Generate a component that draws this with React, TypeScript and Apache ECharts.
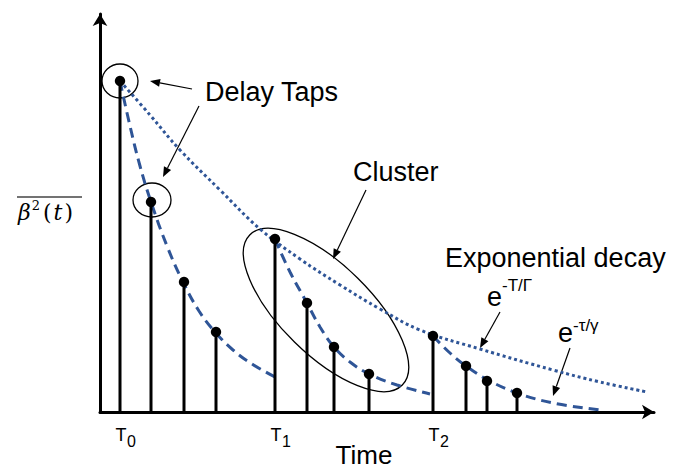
import React, { useEffect, useRef } from "react";
import * as echarts from "echarts";

// Delay taps (time, mean power) in arbitrary schematic units
const tapTimes = [20, 51, 84, 116, 175, 207, 234, 269, 333, 366, 387, 417];
const tapPowers = [331, 210, 130, 80, 173, 109, 65, 38, 76, 46, 31, 19];

// Cluster envelope e^{-T/Γ} (dotted)
const envelopeTimes = [20, 50, 80, 120, 160, 200, 240, 280, 320, 380, 453, 500, 547];
const envelopePowers = [331, 297, 262, 222, 183, 153, 127, 103, 82, 63, 42, 30, 20];

// Ray decay within each cluster e^{-τ/γ} (dashed)
const decay1Times = [20, 30, 40, 51, 67, 83, 99, 115, 133, 152, 175];
const decay1Powers = [331, 286, 246, 210, 166, 130, 101, 80, 62, 48, 35];
const decay2Times = [175, 190, 207, 220, 234, 250, 269, 297, 330];
const decay2Powers = [173, 140, 109, 85, 65, 50, 38, 27, 18];
const decay3Times = [333, 350, 366, 388, 417, 453, 500];
const decay3Powers = [76, 59, 46, 32, 19, 9, 2];

const clusterHeadIdx = [0, 4, 8];
const clusterSubs = ["0", "1", "2"];

const X_MAX = 554;
const Y_MAX = 398;
const BLUE = "#2f5597";
const SANS = "'Liberation Sans', Arial, sans-serif";
const SERIF = "'DejaVu Serif', serif";

const zip = (a: number[], b: number[]) => a.map((v, i) => [v, b[i]]);

function arrow(x1: number, y1: number, x2: number, y2: number) {
  const ang = Math.atan2(y2 - y1, x2 - x1);
  const L = 10;
  const hw = 4;
  const c = Math.cos(ang);
  const s = Math.sin(ang);
  const bx = x2 - L * c;
  const by = y2 - L * s;
  const nx = -s;
  const ny = c;
  return [
    { type: "line", shape: { x1, y1, x2: bx, y2: by }, style: { stroke: "#000", lineWidth: 1.2 } },
    {
      type: "polygon",
      shape: { points: [[x2, y2], [bx + nx * hw, by + ny * hw], [bx - nx * hw, by - ny * hw]] },
      style: { fill: "#000" },
    },
  ];
}

function txt(text: string, x: number, y: number, size: number, align = "left") {
  return {
    type: "text",
    x,
    y,
    style: { text, fontSize: size, fontFamily: SANS, fill: "#000", align, verticalAlign: "middle" },
  };
}

export default function App() {
  const ref = useRef<HTMLDivElement>(null);
  useEffect(() => {
    if (!ref.current) return;
    const chart = echarts.init(ref.current, undefined, { renderer: "svg" });
    const axisCommon = {
      type: "value",
      min: 0,
      axisLine: {
        show: true,
        lineStyle: { color: "#000", width: 3 },
        symbol: ["none", "arrow"],
        symbolSize: [11, 12],
      },
      axisTick: { show: false },
      axisLabel: { show: false },
      splitLine: { show: false },
    };
    const lineSeries = (t: number[], p: number[], type: any) => ({
      type: "line",
      data: zip(t, p),
      symbol: "none",
      smooth: 0.4,
      silent: true,
      z: 2,
      lineStyle: { color: BLUE, width: 3, type, cap: "butt" },
    });
    chart.setOption({
      animation: false,
      grid: { left: 100, right: 37, top: 14, bottom: 58 },
      xAxis: { ...axisCommon, max: X_MAX },
      yAxis: { ...axisCommon, max: Y_MAX },
      series: [
        lineSeries(envelopeTimes, envelopePowers, [3, 3]),
        lineSeries(decay1Times, decay1Powers, [10, 6]),
        lineSeries(decay2Times, decay2Powers, [10, 6]),
        lineSeries(decay3Times, decay3Powers, [10, 6]),
        {
          type: "custom",
          data: zip(tapTimes, tapPowers),
          z: 3,
          silent: true,
          renderItem: (params: any, api: any) => {
            const x = api.value(0);
            const y = api.value(1);
            const top = api.coord([x, y]);
            const base = api.coord([x, 0]);
            return {
              type: "group",
              children: [
                {
                  type: "line",
                  shape: { x1: base[0], y1: base[1], x2: top[0], y2: top[1] },
                  style: { stroke: "#000", lineWidth: 3 },
                },
                { type: "circle", shape: { cx: top[0], cy: top[1], r: 5.2 }, style: { fill: "#000" } },
              ],
            };
          },
        },
      ],
    });

    const px = (t: number, p: number) => chart.convertToPixel({ gridIndex: 0 }, [t, p]) as number[];
    const c0 = px(tapTimes[0], tapPowers[0]);
    const c1 = px(tapTimes[1], tapPowers[1]);
    const cc = px(226, 102);
    const elements: any[] = [];
    elements.push({
      type: "ellipse",
      shape: { cx: c0[0], cy: c0[1], rx: 18, ry: 17 },
      style: { fill: "none", stroke: "#000", lineWidth: 1.3 },
    });
    elements.push({
      type: "ellipse",
      shape: { cx: c1[0] + 1, cy: c1[1] - 2, rx: 19, ry: 17 },
      style: { fill: "none", stroke: "#000", lineWidth: 1.3 },
    });
    elements.push({
      type: "ellipse",
      x: cc[0],
      y: cc[1],
      rotation: -0.777,
      shape: { cx: 0, cy: 0, rx: 107, ry: 45 },
      style: { fill: "none", stroke: "#000", lineWidth: 1.3 },
    });
    elements.push(...arrow(192, 89, 150, 81));
    elements.push(...arrow(199, 106, 163, 177));
    elements.push(...arrow(366, 190, 333, 259));
    elements.push(...arrow(500, 312, 480, 348));
    elements.push(...arrow(570, 348, 553, 396));
    elements.push(txt("Delay Taps", 205, 92, 27));
    elements.push(txt("Cluster", 353, 172, 27));
    elements.push(txt("Exponential decay", 445, 258, 27));
    elements.push(txt("e", 487, 297, 27));
    elements.push(txt("-T/Γ", 502, 285, 17));
    elements.push(txt("e", 558, 333, 27));
    elements.push(txt("-τ/γ", 573, 325, 17));
    elements.push(txt("Time", 364, 455, 26, "center"));
    clusterHeadIdx.forEach((idx, k) => {
      const p = px(tapTimes[idx], 0);
      elements.push(txt("T", p[0] + 1, 435, 18, "center"));
      elements.push(txt(clusterSubs[k], p[0] + 7, 441, 16));
    });
    // y-axis label with overline
    elements.push({
      type: "line",
      shape: { x1: 17, y1: 197, x2: 82, y2: 197 },
      style: { stroke: "#444", lineWidth: 1.5 },
    });
    elements.push({
      type: "text",
      x: 18,
      y: 212,
      style: {
        text: "{a|β}{s|2}{p|(}{a|t}{p|)}",
        fill: "#000",
        align: "left",
        verticalAlign: "middle",
        fontFamily: SERIF,
        fontSize: 22,
        rich: {
          a: { fontFamily: SERIF, fontSize: 22, lineHeight: 26, fontStyle: "italic", fill: "#000", padding: [0, 1, 0, 0] },
          s: { fontFamily: SERIF, fontSize: 13, lineHeight: 26, verticalAlign: "top", fill: "#000", padding: [0, 2, 0, 0] },
          p: { fontFamily: SERIF, fontSize: 22, lineHeight: 26, fill: "#000", padding: [0, 2, 0, 1] },
        },
      },
    });
    chart.setOption({ graphic: { elements } });

    return () => chart.dispose();
  }, []);
  return <div ref={ref} style={{ position: "fixed", left: 0, top: 0, width: 691, height: 470, background: "#fff" }} />;
}
